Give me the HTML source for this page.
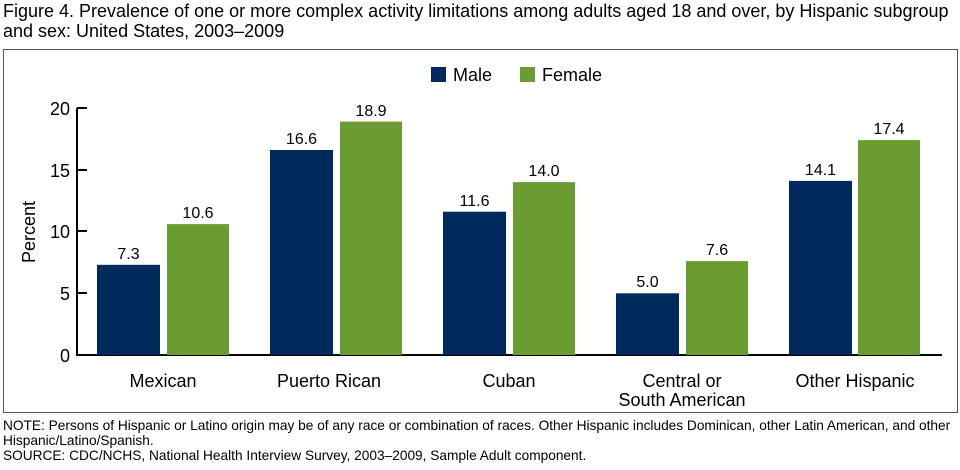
<!DOCTYPE html>
<html><head><style>
body{margin:0;width:960px;height:470px;background:#fff;font-family:"Liberation Sans",sans-serif;position:relative;overflow:hidden}
.t{position:absolute;left:3px;top:1px;font-size:18px;line-height:20px;color:#000;white-space:nowrap}
.n{position:absolute;left:3px;top:418px;font-size:13.7px;line-height:15px;color:#000;white-space:nowrap}
</style></head><body>
<div class="t">Figure 4. Prevalence of one or more complex activity limitations among adults aged 18 and over, by Hispanic subgroup<br>and sex: United States, 2003–2009</div>
<svg style="position:absolute;left:0;top:0" width="960" height="470" font-family="Liberation Sans, sans-serif">
<rect x="3.5" y="49.5" width="954" height="363" fill="none" stroke="#555" stroke-width="1"/>
<rect x="431" y="67" width="15" height="15" fill="#002A5C"/>
<text x="453" y="81" font-size="18">Male</text>
<rect x="520" y="67" width="15" height="15" fill="#6B9C32"/>
<text x="542" y="81" font-size="18">Female</text>
<g stroke="#000" stroke-width="2">
<line x1="77" y1="108" x2="77" y2="356"/>
<line x1="76" y1="355" x2="942" y2="355"/>
<line x1="77" y1="108" x2="87" y2="108"/>
<line x1="77" y1="170" x2="87" y2="170"/>
<line x1="77" y1="231" x2="87" y2="231"/>
<line x1="77" y1="293" x2="87" y2="293"/>
</g>
<g font-size="18" text-anchor="end">
<text x="70" y="115">20</text><text x="70" y="177">15</text><text x="70" y="238">10</text><text x="70" y="300">5</text><text x="70" y="362">0</text>
</g>
<text transform="translate(35,232) rotate(-90)" font-size="18" text-anchor="middle">Percent</text>
<g font-size="16" text-anchor="middle">
<rect x="97" y="264.8" width="63" height="90.2" fill="#002A5C"/><text x="128.5" y="259">7.3</text>
<rect x="167" y="224.1" width="62" height="130.9" fill="#6B9C32"/><text x="198" y="218">10.6</text>
<rect x="270" y="150" width="63" height="205" fill="#002A5C"/><text x="301.5" y="144">16.6</text>
<rect x="340" y="121.6" width="62" height="233.4" fill="#6B9C32"/><text x="371" y="116">18.9</text>
<rect x="443" y="211.7" width="63" height="143.3" fill="#002A5C"/><text x="474.5" y="206">11.6</text>
<rect x="513" y="182.1" width="62" height="172.9" fill="#6B9C32"/><text x="544" y="176">14.0</text>
<rect x="616" y="293.3" width="63" height="61.7" fill="#002A5C"/><text x="647.5" y="287">5.0</text>
<rect x="686" y="261.1" width="62" height="93.9" fill="#6B9C32"/><text x="717" y="255">7.6</text>
<rect x="789" y="180.9" width="63" height="174.1" fill="#002A5C"/><text x="820.5" y="175">14.1</text>
<rect x="858" y="140.1" width="62" height="214.9" fill="#6B9C32"/><text x="889" y="134">17.4</text>
</g>
<g font-size="18" text-anchor="middle">
<text x="163" y="387">Mexican</text>
<text x="329" y="387">Puerto Rican</text>
<text x="509" y="387">Cuban</text>
<text x="682" y="387">Central or</text><text x="682" y="406">South American</text>
<text x="855" y="387">Other Hispanic</text>
</g>
</svg>
<div class="n">NOTE: Persons of Hispanic or Latino origin may be of any race or combination of races. Other Hispanic includes Dominican, other Latin American, and other<br>Hispanic/Latino/Spanish.<br>SOURCE: CDC/NCHS, National Health Interview Survey, 2003–2009, Sample Adult component.</div>
</body></html>
